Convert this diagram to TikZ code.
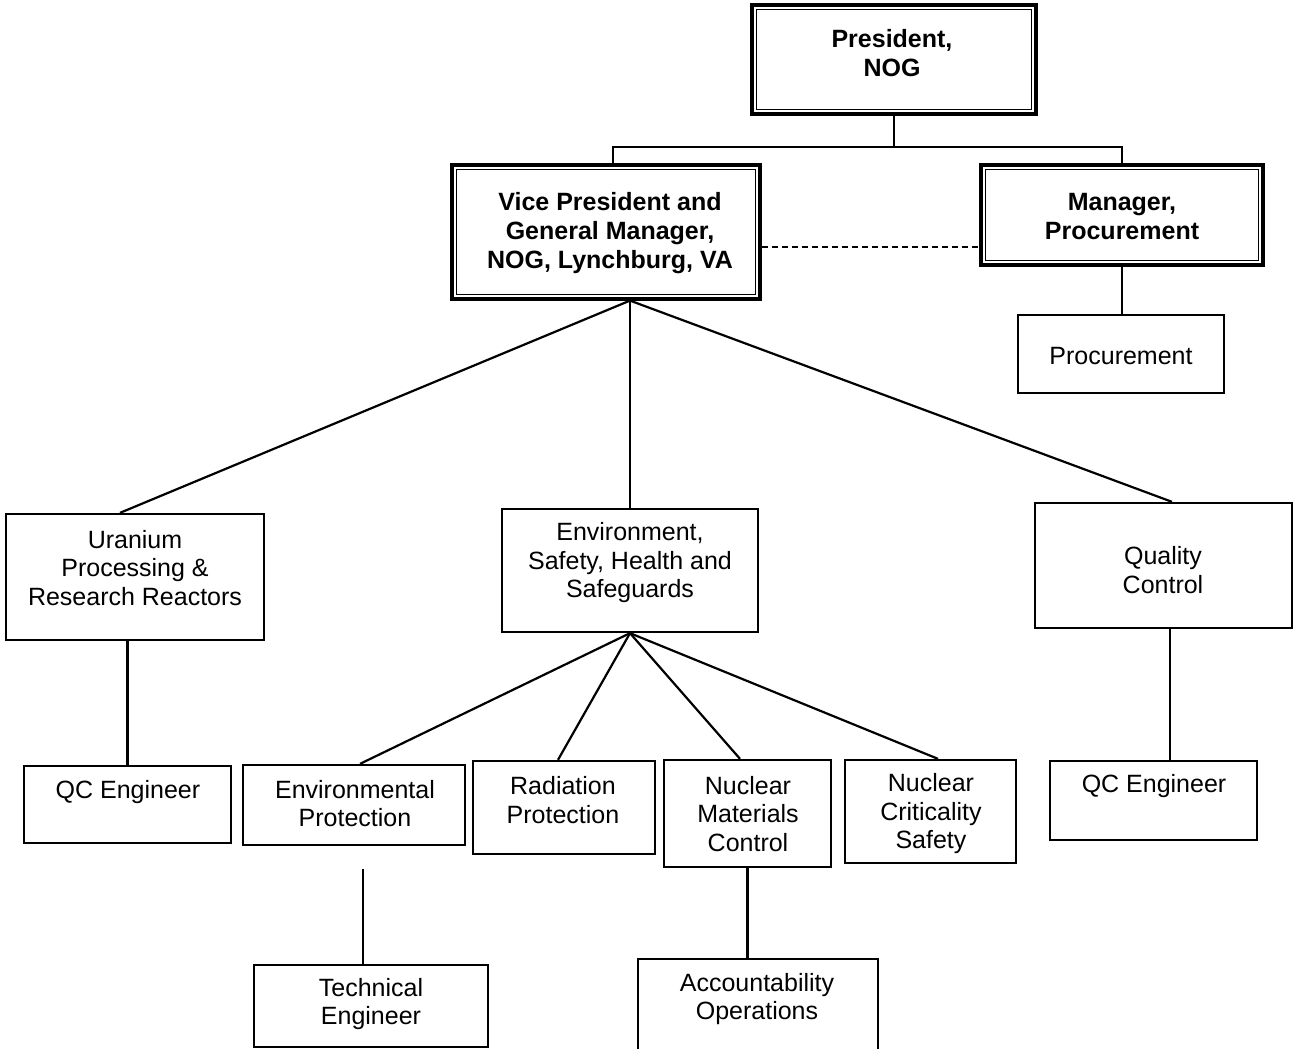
\documentclass[tikz,border=0pt]{standalone}
\usepackage{fontspec}
\setmainfont{Liberation Sans}
\usetikzlibrary{calc}
\begin{document}
\begin{tikzpicture}[x=1pt,y=-1pt,
  box/.style={draw, line width=2.3pt, inner sep=0pt, rectangle},
  dblbox/.style={draw, line width=3.2pt, inner sep=0pt, rectangle},
  txt/.style={align=center, inner sep=0pt, font=\fontsize{25}{28.5}\selectfont},
  btxt/.style={txt, font=\fontsize{25}{29}\selectfont\bfseries},
  conn/.style={line width=2.2pt},
  dashconn/.style={line width=2pt, dash pattern=on 6pt off 4pt}]
\clip (0,0) rectangle (1296,1049);
\fill[white] (0,0) rectangle (1296,1049);

% top level
\node[dblbox, minimum width=284pt, minimum height=109pt] (pres) at (894,59.5) {};
\draw[line width=1.5pt] ($(pres.north west)+(6,6)$) rectangle ($(pres.south east)+(-6,-6)$);
\node[btxt] (prest) at (892,53) {President,\\NOG};

\node[dblbox, minimum width=308pt, minimum height=134pt] (vp) at (606,232) {};
\draw[line width=1.5pt] ($(vp.north west)+(6,6)$) rectangle ($(vp.south east)+(-6,-6)$);
\node[btxt] (vpt) at (610,233) {Vice President and\\General Manager,\\NOG, Lynchburg, VA};

\node[dblbox, minimum width=282pt, minimum height=100pt] (mgr) at (1122,215) {};
\draw[line width=1.5pt] ($(mgr.north west)+(6,6)$) rectangle ($(mgr.south east)+(-6,-6)$);
\node[btxt] (mgrt) at (1122,217) {Manager,\\Procurement};

\node[box, minimum width=206pt, minimum height=78pt] (proc) at (1121,354) {};
\node[txt] (proct) at (1121,356) {Procurement};

% second level
\node[box, minimum width=258pt, minimum height=126pt] (ura) at (135,577) {};
\node[txt] (urat) at (135,568) {Uranium\\Processing \&\\Research Reactors};

\node[box, minimum width=256pt, minimum height=123pt] (eshs) at (630,570.5) {};
\node[txt] (eshst) at (630,563) {Environment,\\Safety, Health and\\Safeguards};

\node[box, minimum width=257pt, minimum height=125pt] (qc) at (1163.5,565.5) {};
\node[txt] (qct) at (1163,570) {Quality\\Control};

% third level
\node[box, minimum width=207pt, minimum height=77pt] (qce1) at (127.5,804.5) {};
\node[txt] (qce1t) at (128,792) {QC Engineer};

\node[box, minimum width=207pt, minimum height=79pt] (qce2) at (1153.5,800.5) {};
\node[txt] (qce2t) at (1154,786) {QC Engineer};

\node[box, minimum width=222pt, minimum height=80pt] (ep) at (354,805) {};
\node[txt] (ept) at (355,803.5) {Environmental\\Protection};

\node[box, minimum width=182pt, minimum height=93pt] (rp) at (564,807.5) {};
\node[txt] (rpt) at (563,800) {Radiation\\Protection};

\node[box, minimum width=167pt, minimum height=107pt] (nmc) at (747.5,813.5) {};
\node[txt] (nmct) at (748,814) {Nuclear\\Materials\\Control};

\node[box, minimum width=171pt, minimum height=103pt] (ncs) at (930.5,811.5) {};
\node[txt] (ncst) at (931,814) {Nuclear\\Criticality\\Safety};

% fourth level
\node[box, minimum width=234pt, minimum height=82pt] (te) at (371,1006) {};
\node[txt] (tet) at (371,1004) {Technical\\Engineer};

\node[box, minimum width=240pt, minimum height=110pt] (ao) at (758,1014) {};
\node[txt] (aot) at (757,999) {Accountability\\Operations};

% helper coordinates
\coordinate (bus) at ($(pres.south)+(0,31)$);
\coordinate (vpin) at ($(vp.north)+(7,0)$);
\coordinate (dashA) at ($(vp.east)+(0,15)$);
\coordinate (dashB) at (dashA -| mgr.west);
\coordinate (vpfan) at (vp.south -| eshs.north);
\coordinate (qcout) at ($(qc.south)+(6.5,0)$);
\coordinate (qce2in) at (qcout |- qce2.north);
\coordinate (epout) at ($(ep.south)+(9,23)$);
\coordinate (tein) at (epout |- te.north);

% connectors
\draw[conn] (pres.south) -- (bus);
\draw[conn] (vpin) |- (bus) -| (mgr.north);
\draw[dashconn] (dashA) -- (dashB);
\draw[conn] (mgr.south) -- (mgr.south |- proc.north);

\draw[conn] (vpfan) -- ($(ura.north)+(-15,0)$);
\draw[conn] (vpfan) -- (eshs.north);
\draw[conn] (vpfan) -- ($(qc.north)+(8.5,0)$);

\draw[conn] (ura.south -| qce1.north) -- (qce1.north);
\draw[conn] (qcout) -- (qce2in);

\draw[conn] (eshs.south) -- ($(ep.north)+(6,0)$);
\draw[conn] (eshs.south) -- ($(rp.north)+(-6,0)$);
\draw[conn] (eshs.south) -- ($(nmc.north)+(-7.5,0)$);
\draw[conn] (eshs.south) -- ($(ncs.north)+(7.5,0)$);

\draw[conn] (epout) -- (tein);
\draw[conn] (nmc.south) -- (nmc.south |- ao.north);
\end{tikzpicture}
\end{document}
